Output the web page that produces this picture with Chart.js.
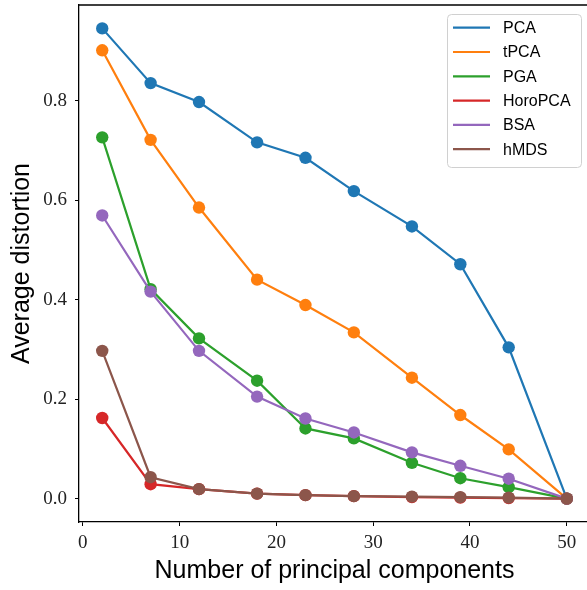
<!DOCTYPE html>
<html>
<head>
<meta charset="utf-8">
<script src="https://cdn.jsdelivr.net/npm/chart.js@4.4.1/dist/chart.umd.min.js"></script>
<style>
  html, body { margin: 0; padding: 0; background: #fff; overflow: hidden; }
  canvas { display: block; }
</style>
</head>
<body>
<canvas id="myChart" width="590" height="590"></canvas>
<script>
// number of principal components
var components = [2, 7, 12, 18, 23, 28, 34, 39, 44, 50];

// average distortion per method
var pca      = [0.945, 0.835, 0.797, 0.716, 0.685, 0.618, 0.547, 0.471, 0.304, 0.0];
var tpca     = [0.901, 0.721, 0.585, 0.440, 0.389, 0.334, 0.243, 0.168, 0.099, 0.0];
var pga      = [0.726, 0.421, 0.322, 0.237, 0.141, 0.121, 0.072, 0.041, 0.023, 0.0];
var horopca  = [0.162, 0.029, 0.019, 0.010, 0.007, 0.005, 0.003, 0.002, 0.001, 0.0];
var bsa      = [0.569, 0.416, 0.297, 0.205, 0.161, 0.133, 0.093, 0.066, 0.040, 0.0];
var hmds     = [0.297, 0.043, 0.019, 0.010, 0.007, 0.005, 0.004, 0.003, 0.002, 0.0];

var seriesNames = ['PCA', 'tPCA', 'PGA', 'HoroPCA', 'BSA', 'hMDS'];
var seriesData = [pca, tpca, pga, horopca, bsa, hmds];
var colors = ['#1f77b4', '#ff7f0e', '#2ca02c', '#d62728', '#9467bd', '#8c564b'];

var xTicks = [0, 10, 20, 30, 40, 50];
var yTicks = [0.0, 0.2, 0.4, 0.6, 0.8];

var datasets = seriesNames.map(function (name, i) {
	return {
		label: name,
		data: components.map(function (x, j) { return {x: x, y: seriesData[i][j]}; }),
		borderColor: colors[i],
		backgroundColor: colors[i],
		pointBackgroundColor: colors[i],
		pointBorderWidth: 0,
		pointRadius: 6.2,
		borderWidth: 2.2,
		tension: 0,
		// later series are drawn on top, like matplotlib
		order: seriesNames.length - 1 - i
	};
});

// top and right spines
var frame = {
	id: 'frame',
	afterDatasetsDraw: function (chart) {
		var ctx = chart.ctx, a = chart.chartArea;
		ctx.save();
		ctx.strokeStyle = '#000';
		ctx.lineWidth = 1.3;
		ctx.beginPath();
		ctx.moveTo(a.left, a.top);
		ctx.lineTo(a.right, a.top);
		ctx.lineTo(a.right, a.bottom);
		ctx.stroke();
		ctx.restore();
	}
};

// matplotlib style legend box in the upper right
var boxLegend = {
	id: 'boxLegend',
	afterDraw: function (chart) {
		var ctx = chart.ctx;
		var bx = 447.5, by = 14.5, bw = 134, bh = 153, r = 4;
		ctx.save();
		ctx.beginPath();
		ctx.moveTo(bx + r, by);
		ctx.arcTo(bx + bw, by, bx + bw, by + bh, r);
		ctx.arcTo(bx + bw, by + bh, bx, by + bh, r);
		ctx.arcTo(bx, by + bh, bx, by, r);
		ctx.arcTo(bx, by, bx + bw, by, r);
		ctx.closePath();
		ctx.fillStyle = 'rgba(255,255,255,0.8)';
		ctx.fill();
		ctx.strokeStyle = '#d0d0d0';
		ctx.lineWidth = 1;
		ctx.stroke();
		ctx.font = '16px "Liberation Sans", Arial, sans-serif';
		ctx.textBaseline = 'middle';
		chart.data.datasets.forEach(function (ds, i) {
			var y = 27.7 + i * 24.3;
			ctx.strokeStyle = ds.borderColor;
			ctx.lineWidth = 2.2;
			ctx.beginPath();
			ctx.moveTo(453, y);
			ctx.lineTo(490, y);
			ctx.stroke();
			ctx.fillStyle = '#000';
			ctx.fillText(ds.label, 503, y + 1);
		});
		ctx.restore();
	}
};

var ctx = document.getElementById('myChart').getContext('2d');
var myChart = new Chart(ctx, {
	type: 'line',
	data: { datasets: datasets },
	options: {
		responsive: false,
		animation: false,
		devicePixelRatio: 1,
		layout: { autoPadding: false, padding: { top: 5, left: 0, right: 0, bottom: 0 } },
		plugins: { legend: { display: false }, tooltip: { enabled: false } },
		scales: {
			x: {
				type: 'linear',
				min: -0.4,
				max: 52.4,
				afterBuildTicks: function (axis) { axis.ticks = xTicks.map(function (v) { return {value: v}; }); },
				afterFit: function (axis) {
					axis.height = 68;
					axis.paddingLeft = 0;
					axis.paddingRight = 0;
				},
				grid: { drawOnChartArea: false, drawTicks: true, tickLength: 4, color: '#000', lineWidth: 1 },
				border: { display: true, color: '#000', width: 1.3 },
				ticks: {
					color: '#222',
					padding: 6,
					maxRotation: 0,
					font: { family: '"Liberation Serif", "DejaVu Serif", serif', size: 19 },
					callback: function (v) { return String(v); }
				},
				title: {
					display: true,
					text: 'Number of principal components',
					color: '#000',
					padding: { top: 0, bottom: 4 },
					font: { family: '"Liberation Sans", Arial, sans-serif', size: 25 }
				}
			},
			y: {
				type: 'linear',
				min: -0.047,
				max: 0.992,
				afterBuildTicks: function (axis) { axis.ticks = yTicks.map(function (v) { return {value: v}; }); },
				afterFit: function (axis) {
					axis.width = 79;
					axis.paddingTop = 0;
					axis.paddingBottom = 0;
				},
				grid: { drawOnChartArea: false, drawTicks: true, tickLength: 4, color: '#000', lineWidth: 1 },
				border: { display: true, color: '#000', width: 1.3 },
				ticks: {
					color: '#222',
					padding: 8,
					font: { family: '"Liberation Serif", "DejaVu Serif", serif', size: 19 },
					callback: function (v) { return Number(v).toFixed(1); }
				},
				title: {
					display: true,
					text: 'Average distortion',
					color: '#000',
					padding: { top: 7, bottom: 0 },
					font: { family: '"Liberation Sans", Arial, sans-serif', size: 25 }
				}
			}
		}
	},
	plugins: [frame, boxLegend]
});
</script>
</body>
</html>
